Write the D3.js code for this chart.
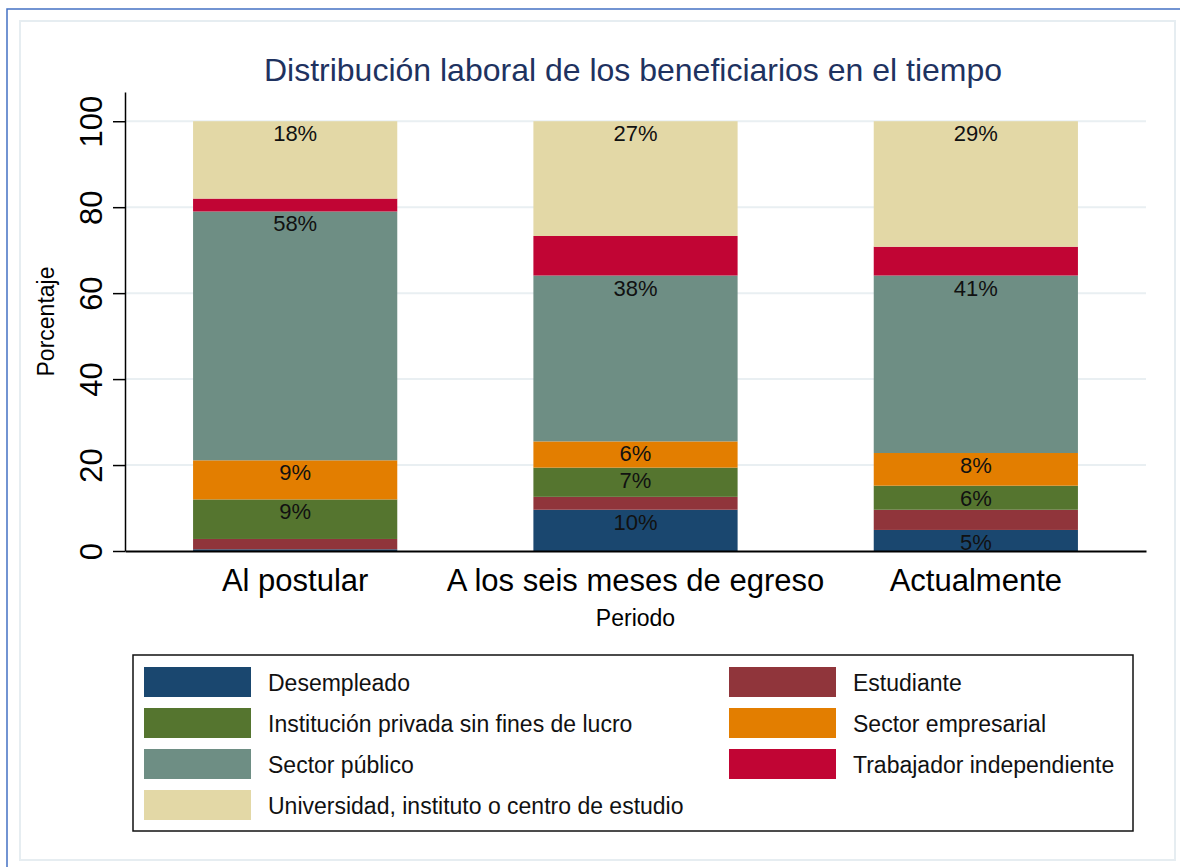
<!DOCTYPE html>
<html>
<head>
<meta charset="utf-8">
<script src="https://cdn.jsdelivr.net/npm/d3@7"></script>
<style>
  body { margin: 0; background: #fff; }
  svg { display: block; font-family: Arial, "Liberation Sans", sans-serif; }
</style>
</head>
<body>
<svg width="1180" height="867"></svg>
<script>
// data (percent, stacked bottom -> top)
var periods = ['Al postular', 'A los seis meses de egreso', 'Actualmente'];
var categories = ['Desempleado', 'Estudiante', 'Institución privada sin fines de lucro',
                  'Sector empresarial', 'Sector público', 'Trabajador independiente',
                  'Universidad, instituto o centro de estudio'];
var colors = ['#1a476f', '#90353b', '#55752f', '#e37e00', '#6e8e84', '#c10534', '#e3d8a6'];

var desempleado  = [0.4, 9.6, 4.9];
var estudiante   = [2.4, 3.0, 4.7];
var institucion  = [9.2, 6.8, 5.6];
var empresarial  = [9.1, 6.1, 7.6];
var publico      = [57.9, 38.6, 41.3];
var trabajador   = [3.0, 9.2, 6.7];
var universidad  = [18.0, 26.7, 29.2];

// bar labels as printed (null = no label)
var labels = [
  [null, '10%', '5%'],
  [null, null, null],
  ['9%', '7%', '6%'],
  ['9%', '6%', '8%'],
  ['58%', '38%', '41%'],
  [null, null, null],
  ['18%', '27%', '29%']
];
var yTicks = [0, 20, 40, 60, 80, 100];

var series = [desempleado, estudiante, institucion, empresarial, publico, trabajador, universidad];

var svg = d3.select('svg');
var width = +svg.attr('width');
var height = +svg.attr('height');

// page frames
svg.append('rect')
  .attr('x', 20).attr('y', 21).attr('width', 1155).attr('height', 839)
  .attr('fill', '#fff').attr('stroke', '#e6edf1').attr('stroke-width', 2);
svg.append('path')
  .attr('d', 'M7,867V9H1180')
  .attr('fill', 'none').attr('stroke', '#4472c4').attr('stroke-width', 1.5);

var margin = {left: 125, right: 34, top: 92, bottom: 316};
var innerTop = margin.top, innerBottom = height - margin.bottom; // 551

var yscale = d3.scaleLinear()
  .domain([0, 106.8])
  .range([innerBottom, innerTop]);

var xscale = d3.scaleBand()
  .domain(periods)
  .range([margin.left, width - margin.right])
  .paddingInner(0.4)
  .paddingOuter(0.2);

// title
svg.append('text')
  .attr('x', 633).attr('y', 81)
  .attr('text-anchor', 'middle')
  .attr('font-size', 32)
  .attr('fill', '#1e3260')
  .text('Distribución laboral de los beneficiarios en el tiempo');

// gridlines
svg.append('g').selectAll('line')
  .data(yTicks.filter(d => d > 0))
  .enter().append('line')
  .attr('x1', margin.left).attr('x2', width - margin.right)
  .attr('y1', d => yscale(d)).attr('y2', d => yscale(d))
  .attr('stroke', '#e9eff2').attr('stroke-width', 2);

// stacked bars
var stack = d3.stack()
  .keys(d3.range(categories.length))
  .value((d, k) => series[k][d]);
var layers = stack(d3.range(periods.length));

var g = svg.append('g');
layers.forEach((layer, k) => {
  g.append('g').attr('fill', colors[k])
    .selectAll('rect')
    .data(layer)
    .enter().append('rect')
    .attr('x', (d, i) => xscale(periods[i]))
    .attr('width', xscale.bandwidth())
    .attr('y', d => yscale(d[1]))
    .attr('height', d => yscale(d[0]) - yscale(d[1]));
});

// bar labels (top inside of each segment)
var labelData = [];
layers.forEach((layer, k) => {
  layer.forEach((d, i) => {
    if (labels[k][i] !== null) labelData.push({period: periods[i], top: d[1], text: labels[k][i]});
  });
});
g.append('g').selectAll('text')
  .data(labelData)
  .enter().append('text')
  .attr('x', d => xscale(d.period) + xscale.bandwidth() / 2)
  .attr('y', d => yscale(d.top) + 20)
  .attr('text-anchor', 'middle')
  .attr('font-size', 22)
  .attr('fill', '#111')
  .text(d => d.text);

// y axis
var yaxis = d3.axisLeft(yscale).tickValues(yTicks).tickSize(12).tickSizeOuter(0);
var ya = svg.append('g').attr('transform', `translate(${margin.left},0)`).call(yaxis);
ya.select('.domain').attr('stroke', '#000').attr('stroke-width', 1.5);
ya.selectAll('.tick line').attr('stroke', '#000').attr('stroke-width', 1.5);
ya.selectAll('.tick text')
  .attr('font-size', 31)
  .attr('fill', '#000')
  .attr('x', null).attr('dy', null)
  .attr('text-anchor', 'middle')
  .attr('transform', 'translate(-23,0) rotate(-90)');

svg.append('text')
  .attr('transform', `translate(54,${(innerTop + innerBottom) / 2}) rotate(-90)`)
  .attr('text-anchor', 'middle')
  .attr('font-size', 23)
  .text('Porcentaje');

// x axis
var xaxis = d3.axisBottom(xscale).tickSize(0).tickSizeOuter(0);
var xa = svg.append('g').attr('transform', `translate(0,${innerBottom})`).call(xaxis);
xa.select('.domain').attr('stroke', '#000').attr('stroke-width', 2);
xa.selectAll('.tick text')
  .attr('font-size', 31)
  .attr('fill', '#000')
  .attr('dy', null)
  .attr('y', 40);

svg.append('text')
  .attr('x', (margin.left + width - margin.right) / 2).attr('y', 626)
  .attr('text-anchor', 'middle')
  .attr('font-size', 23)
  .text('Periodo');

// legend
var legend = svg.append('g');
legend.append('rect')
  .attr('x', 133).attr('y', 655).attr('width', 1000).attr('height', 176)
  .attr('fill', '#fff').attr('stroke', '#111').attr('stroke-width', 1.5);

var items = legend.selectAll('g.item')
  .data(categories)
  .enter().append('g')
  .attr('class', 'item')
  .attr('transform', (d, i) => `translate(${i % 2 === 0 ? 144 : 729},${667 + Math.floor(i / 2) * 41})`);
items.append('rect')
  .attr('width', 107).attr('height', 30)
  .attr('fill', (d, i) => colors[i]);
items.append('text')
  .attr('x', 124).attr('y', 24)
  .attr('font-size', 23)
  .attr('fill', '#111')
  .text(d => d);
</script>
</body>
</html>
